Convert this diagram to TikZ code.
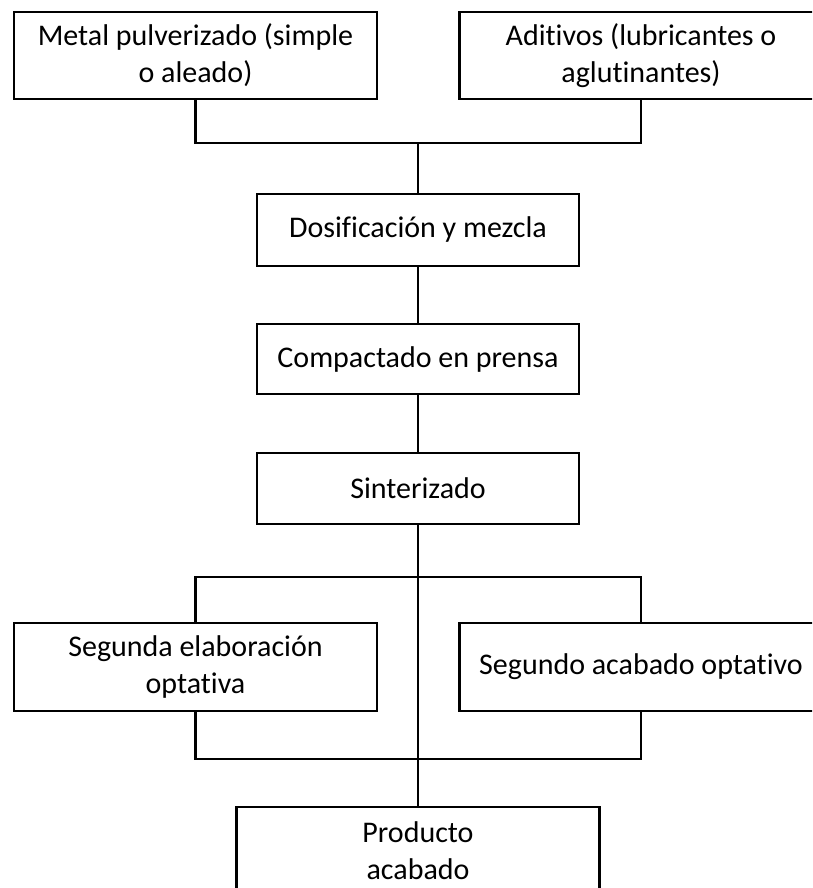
\documentclass[tikz,border=0pt]{standalone}
\usepackage{fontspec}
\setmainfont[Ligatures=NoCommon]{Carlito}
\begin{document}
\begin{tikzpicture}[x=1pt,y=-1pt,
  box/.style={draw=black, line width=2.8pt, fill=white, rectangle, align=center,
    inner sep=0pt, font=\fontsize{30}{37}\selectfont},
  link/.style={draw=black, line width=2.8pt}]
\useasboundingbox (0,0) rectangle (812,888);
\clip (0,0) rectangle (812,888);

% inputs
\node[box, minimum width=363pt, minimum height=87pt] (metal) at (195.5,55.5) {Metal pulverizado (simple\\o aleado)};
\node[box, minimum width=363pt, minimum height=87pt] (adit) at (641,55.5) {Aditivos (lubricantes o\\aglutinantes)};

% main process chain
\node[box, minimum width=322pt, minimum height=72pt] (dos) at (418,230) {Dosificación y mezcla};
\node[box, minimum width=322pt, minimum height=70pt] (comp) at (418,359) {Compactado en prensa};
\node[box, minimum width=322pt, minimum height=71pt] (sint) at (418,488.5) {Sinterizado};

% optional secondary steps
\node[box, minimum width=363pt, minimum height=88pt] (seg1) at (195.5,667) {Segunda elaboración\\optativa};
\node[box, minimum width=363pt, minimum height=88pt] (seg2) at (641,667) {Segundo acabado optativo};

% output
\node[box, minimum width=363pt, minimum height=88pt] (prod) at (418,851) {Producto\\acabado};

% junction points
\coordinate (j1) at (418,143);
\coordinate (s) at (418,577);
\coordinate (m) at (418,759);

\draw[link] (metal.south) |- (j1) -| (adit.south);
\draw[link] (j1) -- (dos.north);
\draw[link] (dos.south) -- (comp.north);
\draw[link] (comp.south) -- (sint.north);
\draw[link] (sint.south) -- (s);
\draw[link] (seg1.north) |- (s) -| (seg2.north);
\draw[link] (seg1.south) |- (m) -| (seg2.south);
\draw[link] (s) -- (prod.north);
\end{tikzpicture}
\end{document}
